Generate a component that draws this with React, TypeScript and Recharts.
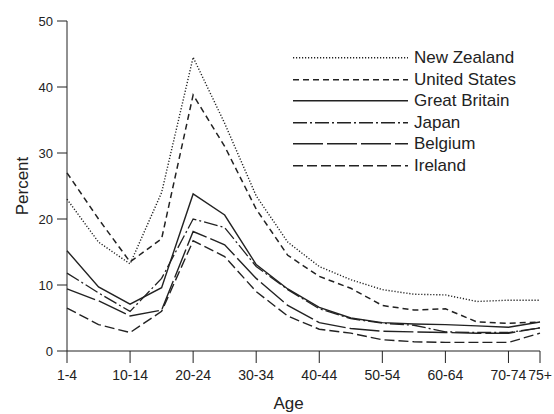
import { LineChart, Line, XAxis, YAxis, Legend } from 'recharts';

// Age groups along the x axis
const ageGroups = [
  '1-4', '5-9', '10-14', '15-19', '20-24', '25-29', '30-34', '35-39',
  '40-44', '45-49', '50-54', '55-59', '60-64', '65-69', '70-74', '75+',
];
// which age groups carry a tick + label
const xTickIndexes = [0, 2, 4, 6, 8, 10, 12, 14, 15];
const yTicks = [0, 10, 20, 30, 40, 50];

// Percent, per age group
const newZealand = [23, 16.5, 13.2, 24, 44.5, 34.5, 23.5, 16.5, 12.8, 10.8, 9.3, 8.6, 8.5, 7.5, 7.7, 7.7];
const unitedStates = [27, 20, 13.5, 17, 38.8, 31, 21.5, 14.5, 11.3, 9.5, 6.9, 6.2, 6.4, 4.4, 4.2, 4.4];
const greatBritain = [15.2, 9.7, 7.1, 9.6, 23.8, 20.6, 13.1, 9.4, 6.6, 5.0, 4.3, 4.1, 4.0, 3.8, 3.6, 4.4];
const japan = [11.8, 8.8, 6.0, 11, 20, 18.7, 12.8, 9.3, 6.4, 4.9, 4.2, 3.9, 2.9, 2.8, 2.8, 3.5];
const belgium = [9.4, 7.6, 5.3, 6.2, 18.1, 16.1, 11.0, 6.9, 4.3, 3.4, 3.0, 2.9, 2.8, 2.7, 2.7, 3.5];
const ireland = [6.5, 4.0, 2.8, 6.0, 16.7, 14.3, 9.0, 5.3, 3.3, 2.7, 1.7, 1.4, 1.3, 1.3, 1.3, 2.7];

const INK = '#222';
const FONT = '"Liberation Sans", Arial, Helvetica, sans-serif';

const series = [
  { key: 'nz', name: 'New Zealand', values: newZealand, dash: '1.2 1.8', width: 1.4 },
  { key: 'us', name: 'United States', values: unitedStates, dash: '6 4', width: 1.5 },
  { key: 'gb', name: 'Great Britain', values: greatBritain, dash: undefined, width: 1.4 },
  { key: 'jp', name: 'Japan', values: japan, dash: '14 3 2 3', width: 1.3 },
  { key: 'be', name: 'Belgium', values: belgium, dash: '30 4', width: 1.4 },
  { key: 'ie', name: 'Ireland', values: ireland, dash: '10 4', width: 1.4 },
];

const data = ageGroups.map((age, i) => {
  const row: Record<string, number | string> = { idx: i, age };
  series.forEach((s) => {
    row[s.key] = s.values[i];
  });
  return row;
});

const renderLegend = () => (
  <div style={{ fontFamily: FONT, fontSize: 17, color: INK }}>
    {series.map((s) => (
      <div key={s.key} style={{ display: 'flex', alignItems: 'center', height: 21.5 }}>
        <svg width={116} height={21.5} style={{ display: 'block' }}>
          <line
            x1={0}
            x2={115}
            y1={10.75}
            y2={10.75}
            stroke={INK}
            strokeWidth={s.width}
            strokeDasharray={s.dash}
          />
        </svg>
        <span style={{ marginLeft: 5, lineHeight: '21.5px', whiteSpace: 'nowrap' }}>{s.name}</span>
      </div>
    ))}
  </div>
);

export default function App() {
  return (
    <div style={{ position: 'absolute', left: 0, top: 0, background: '#fff' }}>
      <LineChart
        width={554}
        height={414}
        data={data}
        margin={{ top: 21, right: 14, left: 10, bottom: 5 }}
      >
        <XAxis
          dataKey="idx"
          type="number"
          domain={[0, 15]}
          ticks={xTickIndexes}
          interval={0}
          tickFormatter={(v: number) => ageGroups[v]}
          height={58}
          tickSize={12}
          tickMargin={7}
          stroke={INK}
          tick={{ fill: INK, fontSize: 14, fontFamily: FONT }}
          label={{
            value: 'Age',
            position: 'insideBottom',
            offset: 0,
            dx: -15,
            style: { fill: INK, fontSize: 17, fontFamily: FONT },
          }}
        />
        <YAxis
          domain={[0, 50]}
          ticks={yTicks}
          interval={0}
          width={57}
          tickSize={10}
          tickMargin={4}
          stroke={INK}
          tick={{ fill: INK, fontSize: 13, fontFamily: FONT }}
          label={{
            value: 'Percent',
            angle: -90,
            position: 'insideLeft',
            offset: 12,
            style: { textAnchor: 'middle', fill: INK, fontSize: 17, fontFamily: FONT },
          }}
        />
        <Legend
          layout="vertical"
          align="center"
          verticalAlign="middle"
          content={renderLegend}
          wrapperStyle={{ left: 293, top: 47, width: 250 }}
        />
        {series.map((s) => (
          <Line
            key={s.key}
            dataKey={s.key}
            name={s.name}
            type="linear"
            stroke={INK}
            strokeWidth={s.width}
            strokeDasharray={s.dash}
            dot={false}
            activeDot={false}
            isAnimationActive={false}
          />
        ))}
      </LineChart>
    </div>
  );
}
